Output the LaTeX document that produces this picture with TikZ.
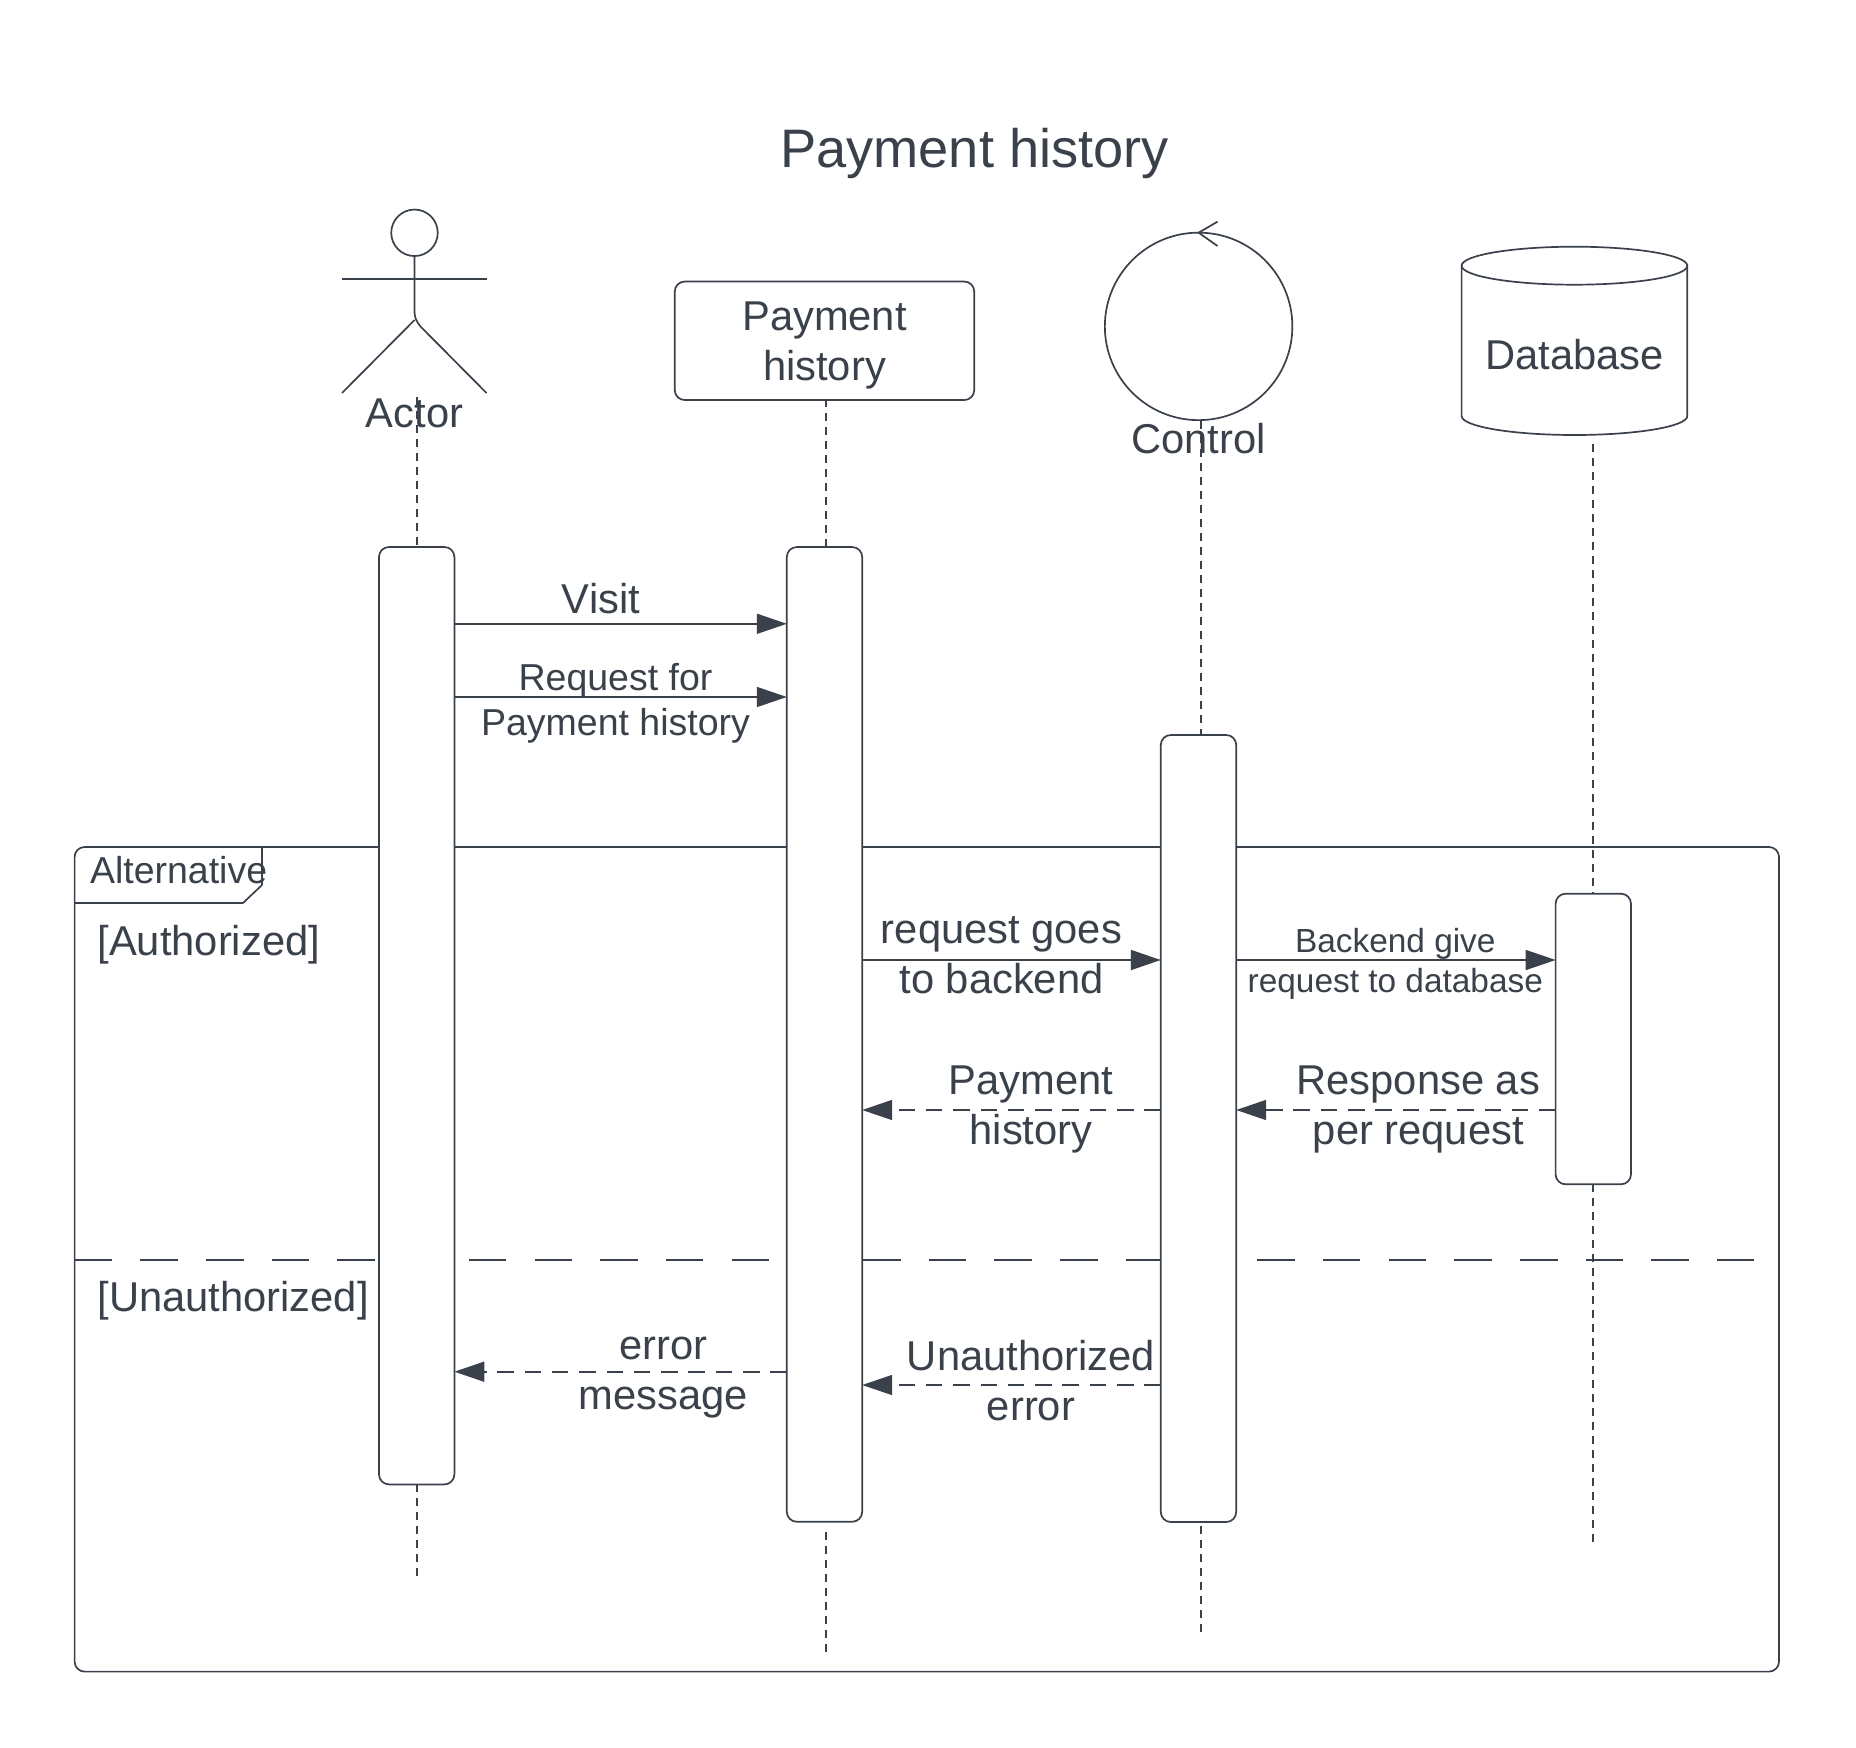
\documentclass[tikz,border=0pt]{standalone}
\usepackage{fontspec}
\setmainfont{Liberation Sans}
\usetikzlibrary{arrows.meta,calc}
\definecolor{ink}{HTML}{3A414A}
\newcommand{\fsz}[2]{\fontsize{#1}{#2}\selectfont}
\newcommand{\twolines}[2]{\vbox{\halign{\hfil##\hfil\cr #1\cr #2\cr}}}
\tikzset{
  x=1pt,y=-1pt,
  shapeline/.style={draw=ink,line width=1.7pt,line join=round},
  activation/.style={shapeline,fill=white,rounded corners=10pt,minimum width=75.4pt,inner sep=0pt,outer sep=0pt},
  lifeline/.style={draw=ink,line width=1.6pt,dash pattern=on 8pt off 6pt},
  syncmsg/.style={draw=ink,line width=1.7pt,-{Triangle[length=30pt,width=20pt,fill=ink]}},
  retmsg/.style={syncmsg,dash pattern=on 16.5pt off 10.8pt},
  lbl/.style={text=ink,inner sep=0pt,outer sep=0pt,anchor=base},
  big/.style={lbl,font=\fsz{41.7}{50}},
  mid/.style={lbl,font=\fsz{37.5}{45}},
  small/.style={lbl,font=\fsz{33.4}{40}},
}
\begin{document}
\begin{tikzpicture}
\useasboundingbox (0,0) rectangle (1856,1748);
\path[fill=white] (0,0) rectangle (1856,1748);

% title
\node[lbl,font=\fsz{54.2}{60}] (title) at (974.5,167) {Payment history};

% frame
\node[shapeline,rounded corners=10pt,minimum width=1704.4pt,minimum height=824.6pt,inner sep=0pt,outer sep=0pt] (frame) at (926.8,1259.3) {};
\coordinate (tabtop) at (262,846.9);
\coordinate (tabnotch) at (262,885);
\coordinate (tabcut) at (243,903);
\coordinate (tableft) at (frame.west |- tabcut);
\draw[shapeline] (tabtop) -- (tabnotch) -- (tabcut) -- (tableft);
\node[mid,anchor=base west] (alt) at (90,883) {Alternative};
\node[big,anchor=base west] (auth) at (97.5,955) {[Authorized]};
\node[big,anchor=base west] (unauth) at (97.5,1311) {[Unauthorized]};

% divider
\coordinate (divend) at (1754,1259.7);
\draw[draw=ink,line width=1.7pt,dash pattern=on 37.5pt off 28.2pt] (frame.west |- divend) -- (divend);

% actor
\node[shapeline,circle,minimum size=46.5pt,inner sep=0pt,outer sep=0pt] (head) at (414.5,232.8) {};
\coordinate (armL) at (342,278.7);
\coordinate (armR) at (486.5,278.7);
\coordinate (hip) at (414.5,310);
\coordinate (hipL) at (414.5,320);
\coordinate (legL) at (342,393);
\coordinate (legR) at (486.5,393);
\draw[shapeline] (armL) -- (armR);
\draw[shapeline] (head.south) -- (hip) .. controls (414.5,318) and (416,321) .. (421,327) -- (legR);
\draw[shapeline] (hipL) -- (legL);

% payment box
\node[shapeline,rounded corners=10pt,minimum width=299.5pt,minimum height=118.5pt,inner sep=0pt,outer sep=0pt] (pay) at (824.5,340.8) {};
\node[big] (paytext) at (824.5,380) {\twolines{Payment}{history}};

% control
\node[shapeline,circle,minimum size=187.5pt,inner sep=0pt,outer sep=0pt] (ctrl) at (1198.6,326.4) {};
\coordinate (ctrlA) at (1217.5,221.7);
\coordinate (ctrlB) at (1217.5,246);
\draw[shapeline] (ctrlA) -- (ctrl.north) -- (ctrlB);

% database
\coordinate (dbTL) at (1461.6,265.7);
\coordinate (dbBL) at (1461.6,416);
\draw[shapeline] (dbTL) -- (dbBL) arc[start angle=180,end angle=360,x radius=112.85pt,y radius=19pt] -- (1687.3,265.7);
\draw[shapeline] (1574.45,265.7) ellipse[x radius=112.85pt,y radius=19pt];
\node[big] (db) at (1574.5,369) {Database};

% activations
\node[activation,minimum height=937.4pt] (a1) at (416.7,1015.7) {};
\node[activation,minimum height=974.7pt] (a2) at (824.5,1034.4) {};
\node[activation,minimum height=787pt] (a3) at (1198.5,1128.5) {};
\node[activation,minimum height=290.6pt] (a4) at (1593.3,1039) {};

% lifeline free ends
\coordinate (l1top) at (417,397);
\coordinate (l1bot) at (417,1578);
\coordinate (l2top) at (826,399);
\coordinate (l2low) at (826,1531.7);
\coordinate (l2bot) at (826,1653);
\coordinate (l3top) at (1201,420.7);
\coordinate (l3low) at (1201,1526);
\coordinate (l3bot) at (1201,1636);
\coordinate (l4top) at (1593,444);
\coordinate (l4bot) at (1593,1544);

% lifelines
\draw[lifeline] (l1top) -- (l1top |- a1.north);
\draw[lifeline] (l1top |- a1.south) -- (l1bot);
\draw[lifeline] (l2top) -- (l2top |- a2.north);
\draw[lifeline] (l2low) -- (l2bot);
\draw[lifeline] (l3top) -- (l3top |- a3.north);
\draw[lifeline] (l3low) -- (l3bot);
\draw[lifeline] (l4top) -- (l4top |- a4.north);
\draw[lifeline] (l4top |- a4.south) -- (l4bot);

% actor, control labels
\node[big] (actor) at (414.5,427) {Actor};
\node[big] (control) at (1198.5,453) {Control};

% message rows
\coordinate (y1) at (0,623.8);
\coordinate (y2) at (0,697);
\coordinate (y3) at (0,960);
\coordinate (y4) at (0,1110);
\coordinate (y5) at (0,1371.7);
\coordinate (y6) at (0,1385);

\draw[syncmsg] (a1.east |- y1) -- (a2.west |- y1);
\draw[syncmsg] (a1.east |- y2) -- (a2.west |- y2);
\draw[syncmsg] (a2.east |- y3) -- (a3.west |- y3);
\draw[syncmsg] (a3.east |- y3) -- (a4.west |- y3);
\draw[retmsg] (a3.west |- y4) -- (a2.east |- y4);
\draw[retmsg] (a4.west |- y4) -- (a3.east |- y4);
\draw[retmsg] (a2.west |- y5) -- (a1.east |- y5);
\draw[retmsg] (a3.west |- y6) -- (a2.east |- y6);

% message labels
\node[big] (m1) at (601,613) {Visit};
\node[mid] (m2) at (615.5,735) {\twolines{Request for}{Payment history}};
\node[big] (m3) at (1001.5,993) {\twolines{request goes}{to backend}};
\node[small] (m4) at (1395.3,992.7) {\twolines{Backend give}{request to database}};
\node[big] (m5) at (1031,1144) {\twolines{Payment}{history}};
\node[big] (m6) at (1418.3,1144.3) {\twolines{Response as}{per request}};
\node[big] (m7) at (663.3,1409.7) {\twolines{error}{message}};
\node[big] (m8) at (1031,1420.6) {\twolines{Unauthorized}{error}};
\end{tikzpicture}
\end{document}
